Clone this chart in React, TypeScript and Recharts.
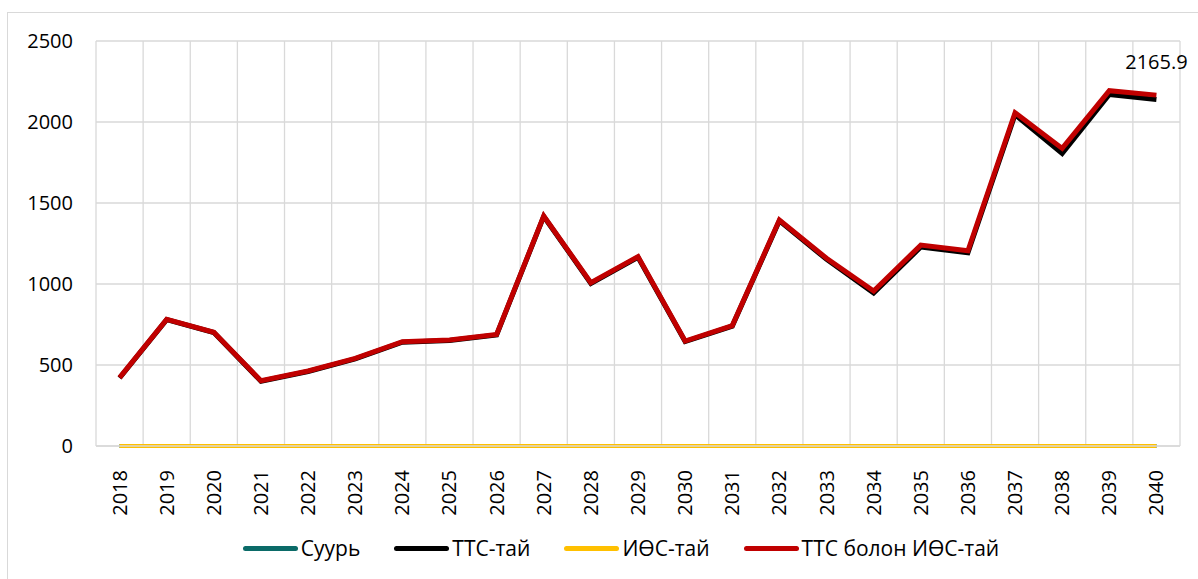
import { CartesianGrid, Legend, Line, LineChart, XAxis, YAxis } from "recharts";

const years = [
  "2018", "2019", "2020", "2021", "2022", "2023", "2024", "2025", "2026", "2027", "2028", "2029",
  "2030", "2031", "2032", "2033", "2034", "2035", "2036", "2037", "2038", "2039", "2040",
];

const baseValues = years.map(() => 0);
const ttsValues = [
  420, 780, 700, 400, 460, 538, 641, 651, 686, 1417, 1004, 1165,
  645, 740, 1390, 1152, 945, 1228, 1193, 2045, 1806, 2170, 2139,
];
const iosValues = years.map(() => 0);
const bothValues = [
  422, 782, 702, 403, 463, 541, 644, 654, 689, 1420, 1008, 1169,
  648, 743, 1395, 1159, 957, 1240, 1205, 2057, 1837, 2193, 2165.9,
];

const yTicks = [0, 500, 1000, 1500, 2000, 2500];

const seriesInfo = [
  { key: "base", name: "Суурь", color: "#0b6b68" },
  { key: "tts", name: "ТТС-тай", color: "#000000" },
  { key: "ios", name: "ИӨС-тай", color: "#ffc000" },
  { key: "both", name: "ТТС болон ИӨС-тай", color: "#c00000" },
];

const data = years.map((year, i) => ({
  year,
  base: baseValues[i],
  tts: ttsValues[i],
  ios: iosValues[i],
  both: bothValues[i],
}));

const FONT = "'Open Sans', sans-serif";

function YearTick({ x, y, payload }: any) {
  return (
    <text
      x={0}
      y={0}
      transform={`translate(${x},${y + 16}) rotate(-90)`}
      textAnchor="end"
      dy="0.35em"
      fontSize={20}
      fontFamily={FONT}
      fill="#000"
    >
      {payload.value}
    </text>
  );
}

function LastLabel({ x, y, index, value }: any) {
  if (index !== years.length - 1) return null;
  return (
    <text x={x} y={y - 26} textAnchor="middle" fontSize={20} fontFamily={FONT} fill="#000">
      {value}
    </text>
  );
}

function LegendBox() {
  return (
    <div
      style={{
        display: "flex",
        justifyContent: "center",
        alignItems: "center",
        height: 40,
        fontFamily: FONT,
        fontSize: 21,
        color: "#000",
        paddingLeft: 54,
      }}
    >
      {seriesInfo.map((s) => (
        <div key={s.key} style={{ display: "flex", alignItems: "center", margin: "0 17px" }}>
          <div style={{ width: 55, height: 5, borderRadius: 3, background: s.color, marginRight: 3 }} />
          <span>{s.name}</span>
        </div>
      ))}
    </div>
  );
}

export default function App() {
  return (
    <div
      style={{
        position: "absolute",
        left: 7,
        top: 12,
        width: 1200,
        height: 580,
        border: "1px solid #d9d9d9",
        boxSizing: "border-box",
        background: "#fff",
      }}
    >
      <LineChart width={1190} height={565} data={data} margin={{ top: 28, right: 18, bottom: 10, left: 0 }}>
        <CartesianGrid
          stroke="#d9d9d9"
          strokeWidth={1.3}
          verticalCoordinatesGenerator={({ offset }: any) =>
            years.map((_, i) => offset.left + (i * offset.width) / years.length).concat(offset.left + offset.width)
          }
        />
        <XAxis
          dataKey="year"
          scale="band"
          interval={0}
          height={82}
          tick={<YearTick />}
          tickLine={false}
          axisLine={{ stroke: "#d9d9d9", strokeWidth: 1.3 }}
        />
        <YAxis
          width={88}
          domain={[0, 2500]}
          ticks={yTicks}
          tickSize={0}
          tickMargin={23}
          tickLine={false}
          axisLine={false}
          tick={{ fontSize: 20, fontFamily: FONT, fill: "#000" }}
        />
        <Legend verticalAlign="bottom" content={<LegendBox />} />
        {seriesInfo.map((s) => (
          <Line
            key={s.key}
            dataKey={s.key}
            name={s.name}
            stroke={s.color}
            strokeWidth={s.key === "both" || s.key === "tts" ? 5 : 4}
            dot={false}
            activeDot={false}
            isAnimationActive={false}
            label={s.key === "both" ? <LastLabel /> : undefined}
          />
        ))}
      </LineChart>
    </div>
  );
}
